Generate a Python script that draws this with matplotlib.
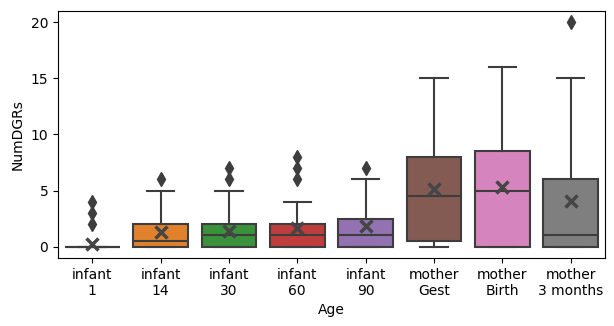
import matplotlib
matplotlib.use("Agg")
import matplotlib.pyplot as plt
import seaborn as sns

# values
labels = ["infant\n1", "infant\n14", "infant\n30", "infant\n60", "infant\n90",
          "mother\nGest", "mother\nBirth", "mother\n3 months"]
q1 = [0, 0, 0, 0, 0, 0.5, 0, 0]
med = [0, 0.5, 1, 1, 1, 4.5, 5, 1]
q3 = [0, 2, 2, 2, 2.5, 8, 8.5, 6]
whislo = [0, 0, 0, 0, 0, 0, 0, 0]
whishi = [0, 5, 5, 4, 6, 15, 16, 15]
means = [0.2, 1.35, 1.4, 1.7, 1.8, 5.1, 5.35, 4.1]
fliers = [[2, 3, 4], [6], [6, 7], [6, 7, 8], [7], [], [], [20]]

stats = []
for i in range(len(labels)):
    stats.append({"label": labels[i], "q1": q1[i], "med": med[i], "q3": q3[i],
                  "whislo": whislo[i], "whishi": whishi[i], "mean": means[i],
                  "fliers": fliers[i]})

palette = [sns.desaturate(c, 0.75) for c in sns.color_palette("tab10", 8)]
gray = (0.24, 0.24, 0.24)
lw = 1.5

fig = plt.figure(figsize=(6.14, 3.26), dpi=100)
ax = fig.add_axes([0.0945, 0.209, 0.8905, 0.757])
res = ax.bxp(stats, positions=range(len(labels)), widths=0.8, patch_artist=True,
             showmeans=True, showfliers=True,
             boxprops=dict(edgecolor=gray, linewidth=lw),
             medianprops=dict(color=gray, linewidth=lw),
             whiskerprops=dict(color=gray, linewidth=lw),
             capprops=dict(color=gray, linewidth=lw),
             capwidths=0.4,
             flierprops=dict(marker="d", markerfacecolor=gray,
                             markeredgecolor=gray, markersize=7),
             meanprops=dict(marker="x", markeredgecolor="#454545",
                            markeredgewidth=2.5, markersize=8))
for box, c in zip(res["boxes"], palette):
    box.set_facecolor(c)

ax.set_xlim(-0.5, len(labels) - 0.5)
ax.set_ylim(-1, 21)
ax.set_yticks([0, 5, 10, 15, 20])
ax.set_xlabel("Age")
ax.set_ylabel("NumDGRs")
fig.savefig("out.png", dpi=100)
